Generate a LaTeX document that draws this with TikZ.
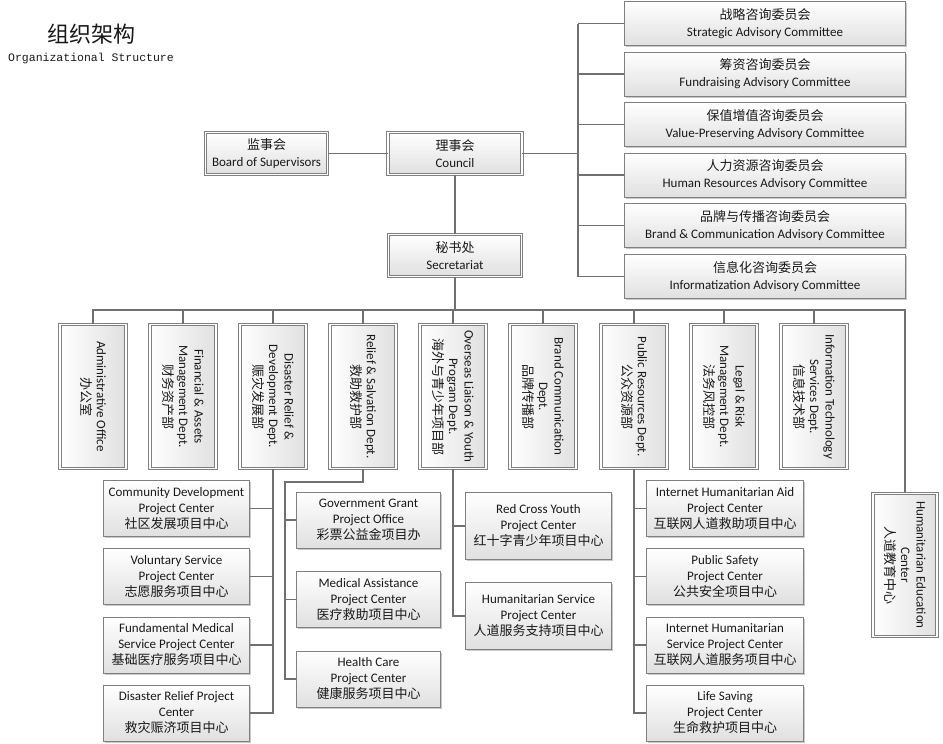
\documentclass[tikz,border=0pt]{standalone}
\usepackage{fontspec}
\setmainfont{Carlito}
\newfontfamily\cjk{Noto Sans CJK SC}
\newfontfamily\monof{Liberation Mono}
\usetikzlibrary{shadows}
\newcommand\zh[1]{{\cjk #1}}
\definecolor{linec}{RGB}{112,112,112}
\definecolor{boxline}{RGB}{128,128,128}
\definecolor{boxbot}{RGB}{224,224,224}
\definecolor{txt}{RGB}{25,25,25}
\begin{document}
\begin{tikzpicture}[x=1pt,y=-1pt,
  conn/.style={draw=linec, line width=1.2pt},
  dbox/.style={draw=boxline, line width=0.9pt, double=white, double distance=1.4pt,
    top color=white, bottom color=boxbot, align=center, inner sep=0pt, text=txt,
    font=\fontsize{13}{17}\selectfont},
  sbox/.style={draw=boxline, line width=1pt, top color=white, bottom color=boxbot,
    drop shadow={shadow xshift=1.5pt, shadow yshift=-1.5pt, fill=gray!70, opacity=0.6},
    align=center, inner sep=0pt, text=txt, font=\fontsize{13}{16}\selectfont},
  cbox/.style={sbox, minimum width=281pt, minimum height=44pt, font=\fontsize{13}{17}\selectfont},
  dept/.style={dbox, rotate=-90, minimum width=144pt, minimum height=66pt,
    font=\fontsize{13}{15.5}\selectfont, left color=white, right color=boxbot},
  pbox/.style={sbox, minimum height=56pt}
]
\useasboundingbox[fill=white] (0,0) rectangle (943,744);

% title
\node[font=\cjk\fontsize{22}{22}\selectfont, text=txt] (title) at (91,34) {组织架构};
\node[font=\monof\fontsize{11.5}{12}\selectfont, text=txt] (subtitle) at (91,59) {Organizational Structure};

% top level
\node[dbox, minimum width=122pt, minimum height=42pt] (board) at (266.5,153.5) {\zh{监事会}\\Board of Supervisors};
\node[dbox, minimum width=134pt, minimum height=42pt] (council) at (455,153.5) {\zh{理事会}\\Council};
\node[dbox, minimum width=133pt, minimum height=42pt] (sec) at (455,255.5) {\zh{秘书处}\\Secretariat};

% committees
\node[cbox] (c1) at (765,23.5) {\zh{战略咨询委员会}\\Strategic Advisory Committee};
\node[cbox] (c2) at (765,74) {\zh{筹资咨询委员会}\\Fundraising Advisory Committee};
\node[cbox] (c3) at (765,124.5) {\zh{保值增值咨询委员会}\\Value-Preserving Advisory Committee};
\node[cbox] (c4) at (765,175) {\zh{人力资源咨询委员会}\\Human Resources Advisory Committee};
\node[cbox] (c5) at (765,225.5) {\zh{品牌与传播咨询委员会}\\Brand \& Communication Advisory Committee};
\node[cbox] (c6) at (765,276.5) {\zh{信息化咨询委员会}\\Informatization Advisory Committee};

% departments
\node[dept] (d1) at (93,396.5) {Administrative Office\\\zh{办公室}};
\node[dept] (d2) at (183,396.5) {Financial \& Assets\\Management Dept.\\\zh{财务资产部}};
\node[dept] (d3) at (273,396.5) {Disaster Relief \&\\Development Dept.\\\zh{赈灾发展部}};
\node[dept] (d4) at (363,396.5) {Relief \& Salvation Dept.\\\zh{救助救护部}};
\node[dept] (d5) at (453,396.5) {Overseas Liaison \& Youth\\Program Dept.\\\zh{海外与青少年项目部}};
\node[dept] (d6) at (543,396.5) {Brand Communication\\Dept.\\\zh{品牌传播部}};
\node[dept] (d7) at (634,396.5) {Public Resources Dept.\\\zh{公众资源部}};
\node[dept] (d8) at (724,396.5) {Legal \& Risk\\Management Dept.\\\zh{法务风控部}};
\node[dept] (d9) at (814,396.5) {Information Technology\\Services Dept.\\\zh{信息技术部}};
\node[dept, minimum width=143pt, minimum height=64pt] (he) at (905,565) {Humanitarian Education\\Center\\\zh{人道教育中心}};

% projects under Disaster Relief & Development
\node[pbox, minimum width=146pt] (p1) at (176.5,508.5) {Community Development\\Project Center\\\zh{社区发展项目中心}};
\node[pbox, minimum width=146pt] (p2) at (176.5,576.5) {Voluntary Service\\Project Center\\\zh{志愿服务项目中心}};
\node[pbox, minimum width=146pt] (p3) at (176.5,645) {Fundamental Medical\\Service Project Center\\\zh{基础医疗服务项目中心}};
\node[pbox, minimum width=146pt] (p4) at (176.5,713) {Disaster Relief Project\\Center\\\zh{救灾赈济项目中心}};

% projects under Relief & Salvation
\node[pbox, minimum width=144pt] (g1) at (368.5,520) {Government Grant\\Project Office\\\zh{彩票公益金项目办}};
\node[pbox, minimum width=144pt] (g2) at (368.5,599.5) {Medical Assistance\\Project Center\\\zh{医疗救助项目中心}};
\node[pbox, minimum width=144pt] (g3) at (368.5,679) {Health Care\\Project Center\\\zh{健康服务项目中心}};

% projects under Overseas Liaison & Youth
\node[pbox, minimum width=146pt, minimum height=67pt] (y1) at (538.5,526) {Red Cross Youth\\Project Center\\\zh{红十字青少年项目中心}};
\node[pbox, minimum width=146pt, minimum height=67pt] (y2) at (538.5,616) {Humanitarian Service\\Project Center\\\zh{人道服务支持项目中心}};

% projects under Public Resources
\node[pbox, minimum width=157pt] (q1) at (725,508.5) {Internet Humanitarian Aid\\Project Center\\\zh{互联网人道救助项目中心}};
\node[pbox, minimum width=157pt] (q2) at (725,576.5) {Public Safety\\Project Center\\\zh{公共安全项目中心}};
\node[pbox, minimum width=157pt] (q3) at (725,645) {Internet Humanitarian\\Service Project Center\\\zh{互联网人道服务项目中心}};
\node[pbox, minimum width=157pt] (q4) at (725,713) {Life Saving\\Project Center\\\zh{生命救护项目中心}};

% connector helpers
\coordinate (tk) at (578,0);
\coordinate (bus) at (0,310);
\coordinate (rj) at (285,482);

% top connectors
\draw[conn] (board.east) -- (council.west);
\draw[conn] (council.east) -- (council.east -| tk);
\draw[conn] (c1.west -| tk) |- (c6.west);
\foreach \c in {c1,c2,c3,c4,c5} \draw[conn] (\c.west -| tk) -- (\c.west);
\draw[conn] (council.south) -- (sec.north);
\draw[conn] (sec.south) -- (sec.south |- bus);

% bus
\draw[conn] (d1.west) |- (he.west |- bus) -- (he.west);
\foreach \d in {d2,d3,d4,d5,d6,d7,d8,d9} \draw[conn] (\d.west) -- (\d.west |- bus);

% Disaster branch
\draw[conn] (d3.east) |- (p4.east);
\foreach \p in {p1,p2,p3} \draw[conn] (\p.east) -- (\p.east -| d3.east);

% Relief branch
\draw[conn] (d4.east) |- (rj) |- (g3.west);
\foreach \g in {g1,g2} \draw[conn] (\g.west -| rj) -- (\g.west);

% Overseas branch
\draw[conn] (d5.east) |- (y2.west);
\draw[conn] (y1.west -| d5.east) -- (y1.west);

% Public branch
\draw[conn] (d7.east) |- (q4.west);
\foreach \q in {q1,q2,q3} \draw[conn] (\q.west -| d7.east) -- (\q.west);
\end{tikzpicture}
\end{document}
